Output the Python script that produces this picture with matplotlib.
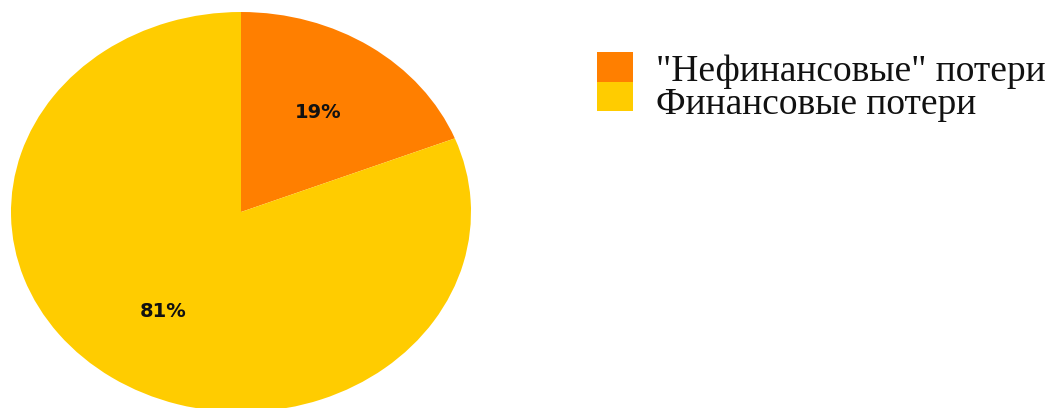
import matplotlib.pyplot as plt
from matplotlib.patches import Rectangle

labels = ['"Нефинансовые" потери', "Финансовые потери"]
shares = [19, 81]
colors = ["#FF7F00", "#FFCC00"]

W, H = 1053, 408
fig = plt.figure(figsize=(W / 100, H / 100), dpi=100)

# elliptical pie: spans x 11..471, y 12..412 (image pixels)
ax = fig.add_axes([11 / W, (H - 412) / H, 460 / W, 400 / H])
wedges, texts, autotexts = ax.pie(shares, colors=colors, startangle=90,
                                  counterclock=False, autopct="%d%%",
                                  pctdistance=0.6,
                                  wedgeprops=dict(linewidth=0),
                                  textprops=dict(fontsize=14, fontweight="bold",
                                                 family="DejaVu Sans", color="#111111"))
ax.set_aspect("auto")
ax.set_xlim(-1, 1)
ax.set_ylim(-1, 1)
ax.axis("off")

# legend drawn by hand
y0 = 52
row = 29.5
for i, (lab, c) in enumerate(zip(labels, colors)):
    top = y0 + i * row
    fig.patches.append(Rectangle((597 / W, (H - top - row) / H), 36 / W, row / H,
                                 transform=fig.transFigure, color=c, lw=0))
    fig.text(656 / W, (H - (81 + i * 33)) / H, lab, fontsize=27,
             family="Liberation Serif", va="baseline", ha="left", color="#111111")

fig.savefig("out.png", dpi=100)
